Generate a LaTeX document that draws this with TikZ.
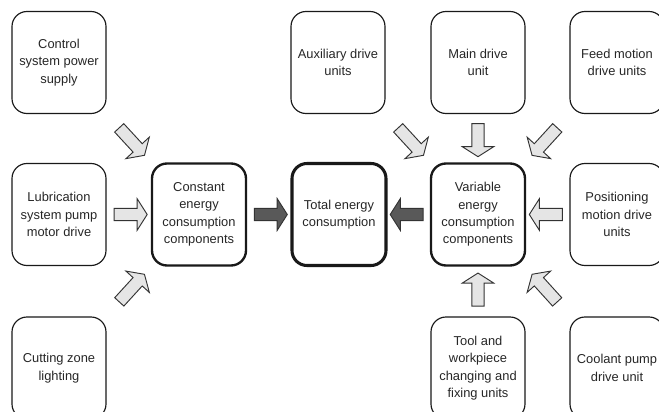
\documentclass[tikz,border=0pt]{standalone}
\usepackage{fontspec}
\setmainfont{Liberation Sans}
\usetikzlibrary{shapes.arrows}

\begin{document}
\begin{tikzpicture}[x=0.3mm, y=-0.3mm,
    every node/.style={font=\fontsize{11}{14.8}\selectfont, text=black!85},
    part/.style={draw=black!90, line width=1pt, rounded corners=4.5mm,
      minimum width=28.2mm, minimum height=30.6mm, align=center},
    group/.style={part, line width=2pt},
    sum/.style={part, line width=2.6pt},
    flow/.style={single arrow, draw=black!80, line width=0.8pt, fill=black!10,
      minimum height=9.9mm, inner sep=1.72mm, single arrow head extend=2.9mm,
      single arrow tip angle=115, sloped, allow upside down},
    slant/.style={flow, minimum height=11.2mm, pos=0.54},
    total flow/.style={flow, fill=black!65}]

  % -- page frame (the bottom and right boxes run off the page)
  \useasboundingbox (0,0) rectangle (659,412);
  \clip (0,0) rectangle (659,412);

  % ==================================================
  % Boxes
  % ==================================================
  % -- top row
  \node[part] (ctrl) at (59,62.5) {Control\\system power\\supply};
  \node[part] (aux)  at (338,62.5) {Auxiliary drive\\units};
  \node[part] (main) at (478,62.5) {Main drive\\unit};
  \node[part] (feed) at (617,62.5) {Feed motion\\drive units};

  % -- middle row
  \node[part]  (lub)   at (59,214.5) {Lubrication\\system pump\\motor drive};
  \node[group] (const) at (199,214.5) {Constant\\energy\\consumption\\components};
  \node[sum]   (total) at (339,214.5) {Total energy\\consumption};
  \node[group] (var)   at (478,214.5) {Variable\\energy\\consumption\\components};
  \node[part]  (posn)  at (617,214.5) {Positioning\\motion drive\\units};

  % -- bottom row
  \node[part] (cut)  at (59,368) {Cutting zone\\lighting};
  \node[part] (tool) at (478,368) {Tool and\\workpiece\\changing and\\fixing units};
  \node[part] (cool) at (617,368) {Coolant pump\\drive unit};

  % ==================================================
  % Block arrows
  % ==================================================
  % -- into the constant part
  \path (ctrl) -- node[slant] {} (const);
  \path (lub)  -- node[flow] {} (const);
  \path (cut)  -- node[slant] {} (const);

  % -- into the variable part
  \path (aux)  -- node[slant] {} (var);
  \path (main) -- node[flow] {} (var);
  \path (feed) -- node[slant] {} (var);
  \path (posn) -- node[flow] {} (var);
  \path (tool) -- node[flow] {} (var);
  \path (cool) -- node[slant] {} (var);

  % -- both parts into the total
  \path (const) -- node[total flow] {} (total);
  \path (var)   -- node[total flow] {} (total);

\end{tikzpicture}
\end{document}
